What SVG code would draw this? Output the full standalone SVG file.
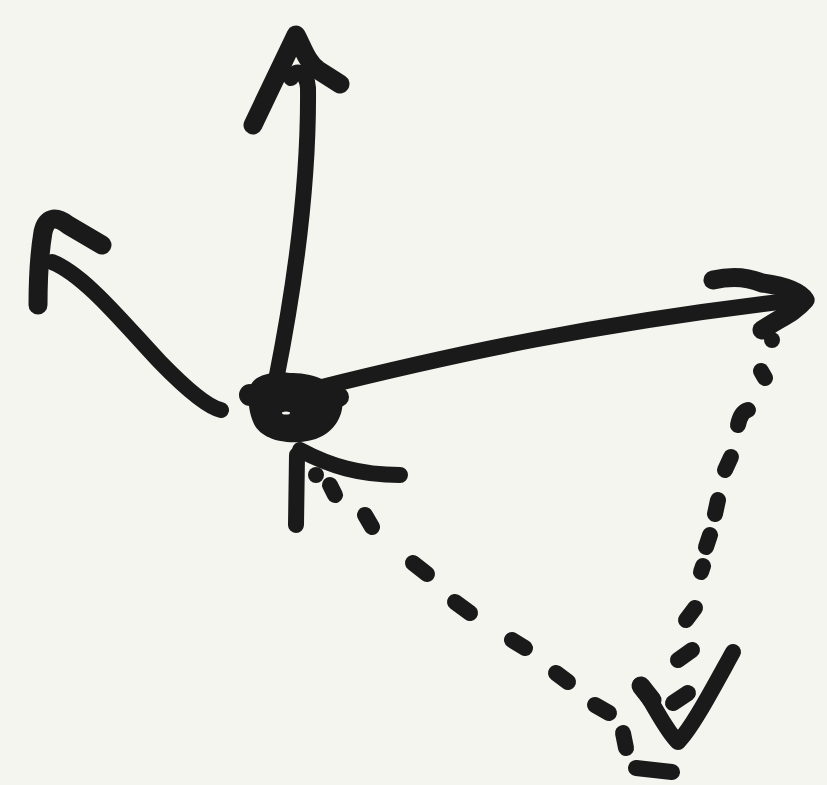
<svg xmlns="http://www.w3.org/2000/svg" width="827" height="785" viewBox="0 0 827 785">
<style>
.s{fill:none;stroke:#1a1a1a;stroke-width:16;stroke-linecap:round;stroke-linejoin:round}
.h{fill:none;stroke:#1a1a1a;stroke-width:19;stroke-linecap:round;stroke-linejoin:round}
.d{fill:none;stroke:#1a1a1a;stroke-width:16;stroke-linecap:round}
</style>
<rect width="827" height="785" fill="#f5f5f0"/>
<g id="node-center">
<path d="M250 390 C250 376 270 371 290 373 C314 372 338 384 342 397 C345 414 335 434 312 440 C288 446 262 440 254 424 C248 410 248 400 250 390 Z" fill="#1a1a1a"/>
<circle cx="250" cy="395" r="11" fill="#1a1a1a"/>
<circle cx="339" cy="397" r="10" fill="#1a1a1a"/>
<ellipse cx="286" cy="413" rx="4" ry="1.5" fill="#f5f5f0"/>
</g>
<g id="connectors">
<g id="arrow-up">
<path class="s" d="M276 380 C294 290 309 190 308 88 C307 72 296 68 291 78"/>
<path class="h" d="M253 125 L296 35 C303 48 307 62 318 70 L340 84"/>
</g>
<g id="arrow-left">
<path class="s" d="M221 410 C212 408 195 398 160 362 C125 325 85 275 52 262"/>
<path class="h" d="M38 305 C38 280 40 250 43 232 C46 218 55 215 68 225 L102 245"/>
</g>
<g id="arrow-right">
<path class="s" d="M318 388 C450 355 600 322 805 299"/>
<path class="h" d="M713 280 C730 276 748 277 762 283 C785 286 800 292 805 300 C795 312 780 318 762 330"/>
<circle cx="772" cy="340" r="8" fill="#1a1a1a"/>
</g>
<g id="arrow-in">
<path class="s" d="M297 455 L296 525"/>
<path class="s" d="M300 450 C330 466 360 475 400 475"/>
<circle cx="316" cy="475" r="8" fill="#1a1a1a"/>
</g>
<g id="dashed-left">
<path class="d" d="M330 485 L335 495"/>
<path class="d" d="M365 515 L372 527"/>
<path class="d" d="M413 563 L427 574"/>
<path class="d" d="M455 602 L470 613"/>
<path class="d" d="M512 640 L525 648"/>
<path class="d" d="M556 673 L568 682"/>
<path class="d" d="M595 705 L609 713"/>
<path class="d" d="M623 733 L626 748"/>
<path class="d" d="M636 768 L672 772"/>
</g>
<g id="dashed-right">
<path class="d" d="M761 371 L765 378"/>
<path class="d" d="M738 425 C740 415 744 411 748 410"/>
<path class="d" d="M725 470 L731 457"/>
<path class="d" d="M715 514 L718 500"/>
<path class="d" d="M706 547 L710 535"/>
<path class="d" d="M701 572 L703 566"/>
<path class="d" d="M686 620 L695 608"/>
<path class="d" d="M678 660 L692 650"/>
<path class="d" d="M673 703 L688 693"/>
<path class="s" d="M640 685 C652 700 665 730 678 742 C692 728 712 690 733 652"/>
<path class="h" d="M641 686 L652 700"/>
</g>
</g>
</svg>
